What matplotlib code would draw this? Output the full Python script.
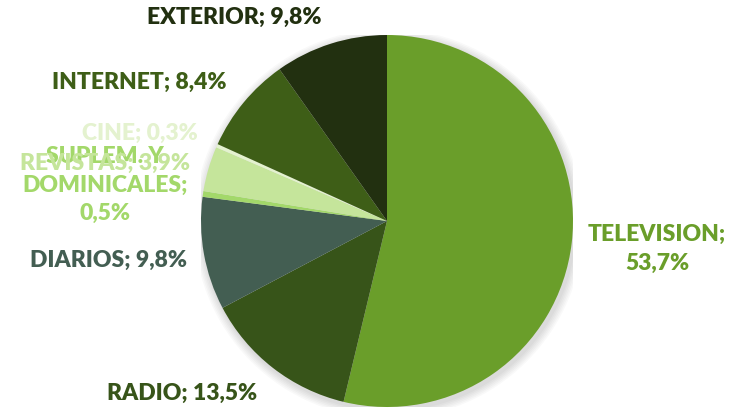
import matplotlib.pyplot as plt
from matplotlib.patches import Circle

# media share data (clockwise from the top)
categories = ['TELEVISION', 'RADIO', 'DIARIOS', 'SUPLEM. Y\nDOMINICALES', 'REVISTAS', 'CINE', 'INTERNET', 'EXTERIOR']
shares = [53.7, 13.5, 9.8, 0.5, 3.9, 0.3, 8.4, 9.8]
colors = ['#6A9E2A', '#375419', '#435E52', '#A3D86A', '#C5E59B', '#E4F2CF', '#3E5E17', '#223010']

plt.rcParams['font.family'] = ['Lato', 'DejaVu Sans']

W, H = 740, 409
fig = plt.figure(figsize=(W / 100, H / 100), dpi=100)
cx, cy, r = 387, 221, 186
ax = fig.add_axes([(cx - r) / W, (H - cy - r) / H, 2 * r / W, 2 * r / H])
ax.set_xlim(-1, 1)
ax.set_ylim(-1, 1)
ax.axis('off')

# soft shadow around the pie
for i in range(6):
    ax.add_patch(Circle((0.01, -0.015), 1 + 0.008 * (i + 1), color='black', alpha=0.025, lw=0, zorder=0))

ax.pie(shares, colors=colors, startangle=90, counterclock=False, radius=1,
       wedgeprops=dict(linewidth=0), frame=False)
ax.set_xlim(-1, 1)
ax.set_ylim(-1, 1)


def fmt(v):
    return f'{v:.1f}'.replace('.', ',') + '%'


# label positions in pixels (text centres)
label_pos = {
    'TELEVISION': (657, 249, 'TELEVISION;\n'),
    'RADIO': (182, 393, 'RADIO; '),
    'DIARIOS': (108, 260, 'DIARIOS; '),
    'SUPLEM. Y\nDOMINICALES': (105, 185, 'SUPLEM. Y\nDOMINICALES;\n'),
    'REVISTAS': (105, 163, 'REVISTAS; '),
    'CINE': (140, 133, 'CINE; '),
    'INTERNET': (139, 82, 'INTERNET; '),
    'EXTERIOR': (234, 17, 'EXTERIOR; '),
}
for cat, val, col in zip(categories, shares, colors):
    x, y, prefix = label_pos[cat]
    fig.text(x / W, 1 - y / H, prefix + fmt(val), color=col, fontsize=16.5, fontweight='heavy',
             ha='center', va='center', linespacing=1.45)

fig.savefig('out.png', dpi=100)
